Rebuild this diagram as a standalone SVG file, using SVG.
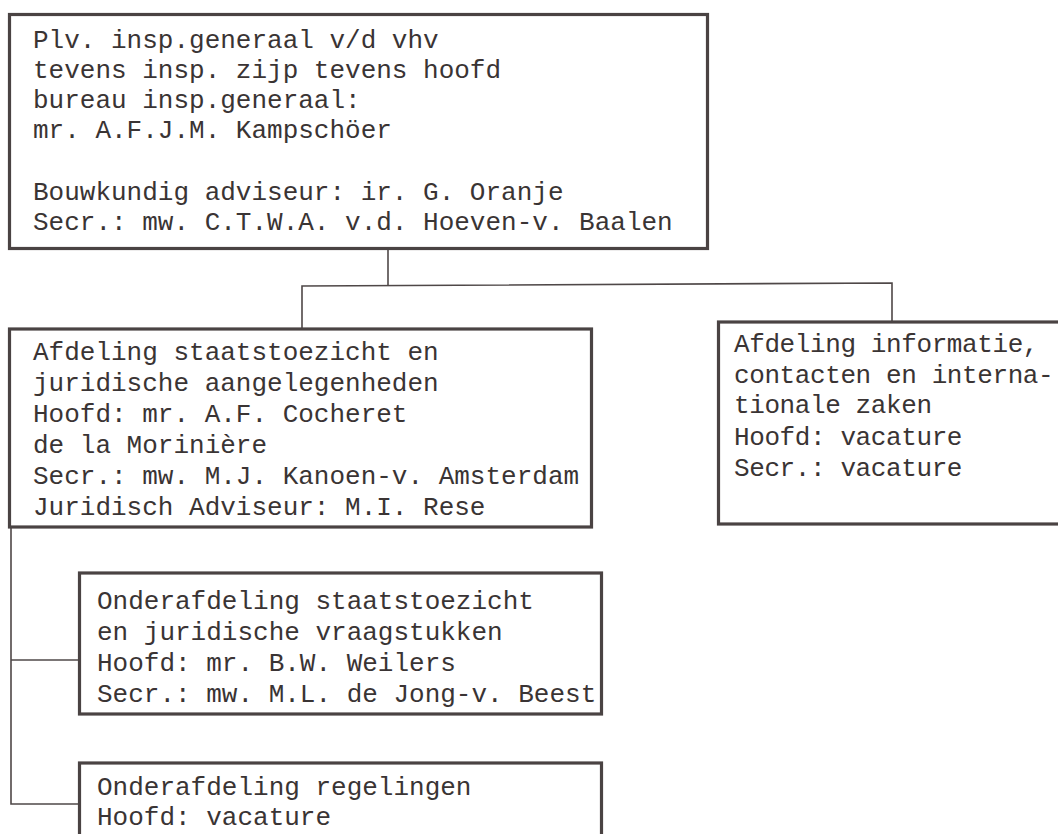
<svg xmlns="http://www.w3.org/2000/svg" width="1058" height="834" viewBox="0 0 1058 834">
  <style>
    .box { fill: none; stroke: #4a4343; stroke-width: 3.2; }
    .wire { fill: none; stroke: #4f4848; stroke-width: 1.6; }
    .t { font-family: "Liberation Mono", "DejaVu Sans Mono", monospace; font-size: 26px; fill: #3a3434; }
    .tight { letter-spacing: -0.4px; }
  </style>
  <rect width="1058" height="834" fill="#ffffff"/>

  <!-- connectors -->
  <g id="connectors">
    <polyline class="wire" points="388,249 388,286"/>
    <polyline class="wire" points="302,329 302,286 892,283 892,322"/>
    <polyline class="wire" points="11,527 11,804 79,804"/>
    <polyline class="wire" points="11,660 79,660"/>
  </g>

  <!-- head of the inspectorate -->
  <g id="node-top">
    <rect class="box" x="9.5" y="14.5" width="698" height="234"/>
    <text class="t" x="33" y="48">Plv. insp.generaal v/d vhv</text>
    <text class="t" x="33" y="78">tevens insp. zijp tevens hoofd</text>
    <text class="t" x="33" y="108">bureau insp.generaal:</text>
    <text class="t" x="33" y="138">mr. A.F.J.M. Kampschöer</text>
    <text class="t" x="33" y="200">Bouwkundig adviseur: ir. G. Oranje</text>
    <text class="t" x="33" y="230">Secr.: mw. C.T.W.A. v.d. Hoeven-v. Baalen</text>
  </g>

  <!-- department: state supervision and legal affairs -->
  <g id="node-staatstoezicht">
    <rect class="box" x="9.5" y="329" width="582" height="198"/>
    <text class="t" x="33" y="360">Afdeling staatstoezicht en</text>
    <text class="t" x="33" y="391">juridische aangelegenheden</text>
    <text class="t" x="33" y="422">Hoofd: mr. A.F. Cocheret</text>
    <text class="t" x="33" y="453">de la Morinière</text>
    <text class="t" x="33" y="484">Secr.: mw. M.J. Kanoen-v. Amsterdam</text>
    <text class="t" x="33" y="515">Juridisch Adviseur: M.I. Rese</text>
  </g>

  <!-- department: information, contacts and international affairs -->
  <g id="node-informatie">
    <rect class="box" x="718.5" y="322" width="360" height="202"/>
    <text class="t tight" x="734" y="352">Afdeling informatie,</text>
    <text class="t tight" x="734" y="383">contacten en interna-</text>
    <text class="t tight" x="734" y="413">tionale zaken</text>
    <text class="t tight" x="734" y="445">Hoofd: vacature</text>
    <text class="t tight" x="734" y="476">Secr.: vacature</text>
  </g>

  <!-- sub-department: state supervision and legal questions -->
  <g id="node-vraagstukken">
    <rect class="box" x="79.5" y="573" width="522" height="141"/>
    <text class="t" x="97" y="609">Onderafdeling staatstoezicht</text>
    <text class="t" x="97" y="640">en juridische vraagstukken</text>
    <text class="t" x="97" y="671">Hoofd: mr. B.W. Weilers</text>
    <text class="t" x="97" y="702">Secr.: mw. M.L. de Jong-v. Beest</text>
  </g>

  <!-- sub-department: regulations -->
  <g id="node-regelingen">
    <rect class="box" x="79.5" y="763" width="522" height="100"/>
    <text class="t" x="97" y="795">Onderafdeling regelingen</text>
    <text class="t" x="97" y="825">Hoofd: vacature</text>
  </g>
</svg>
